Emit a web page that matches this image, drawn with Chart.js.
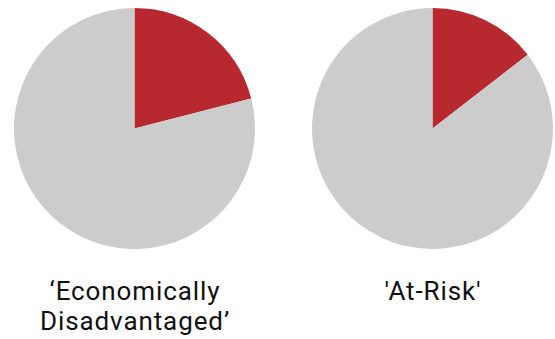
<!DOCTYPE html>
<html>
<head>
<meta charset="utf-8">
<script src="https://cdn.jsdelivr.net/npm/chart.js@4.4.1/dist/chart.umd.min.js"></script>
<style>
  html, body { margin: 0; padding: 0; background: #ffffff; }
  body { width: 555px; height: 339px; position: relative; overflow: hidden; font-family: Roboto, "Noto Sans", sans-serif; }
  .pie { position: absolute; top: 8px; width: 241px; height: 241px; }
  .cap { position: absolute; width: 260px; text-align: center; font-size: 26px; letter-spacing: 0.9px; line-height: 29.6px; color: #111111; }
</style>
</head>
<body>
<div class="pie" style="left:14px"><canvas id="pieA"></canvas></div>
<div class="pie" style="left:312px"><canvas id="pieB"></canvas></div>
<div class="cap" id="capA" style="left:5px; top:277px"></div>
<div class="cap" id="capB" style="left:303px; top:277px"></div>
<script>
// Group names (two lines for the first one) and the share of students in each group, in percent
const groupLines = [["‘Economically", "Disadvantaged’"], ["'At-Risk'"]];
const groupShare = [21, 14.5];
const restShare = groupShare.map(v => 100 - v);
const sliceColors = ["#B8282F", "#CCCCCC"];

function drawPie(id, i) {
  new Chart(document.getElementById(id), {
    type: "pie",
    data: {
      labels: [groupLines[i].join(" "), "Other"],
      datasets: [{
        data: [groupShare[i], restShare[i]],
        backgroundColor: sliceColors,
        borderWidth: 0
      }]
    },
    options: {
      responsive: true,
      maintainAspectRatio: false,
      animation: false,
      layout: { padding: 0 },
      plugins: { legend: { display: false }, tooltip: { enabled: false } }
    }
  });
}
drawPie("pieA", 0);
drawPie("pieB", 1);

document.getElementById("capA").innerHTML = groupLines[0].join("<br>");
document.getElementById("capB").innerHTML = groupLines[1].join("<br>");
</script>
</body>
</html>
